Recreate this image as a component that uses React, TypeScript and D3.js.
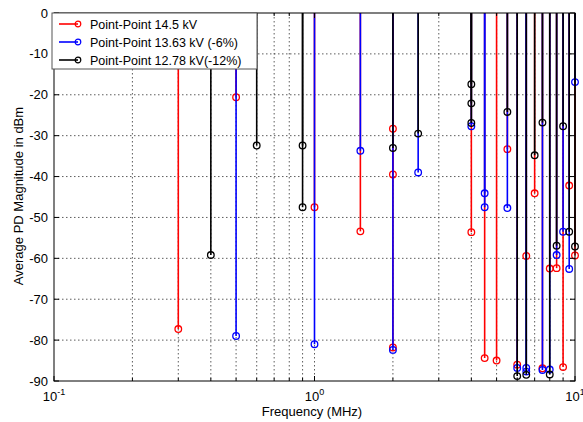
import { useEffect } from "react";
import * as d3 from "d3";

// stem data: [frequency MHz, magnitude dBm]
const redPoints: [number, number][] = [
  [0.3, -77.3], [0.5, -20.6], [1, -47.5], [1.5, -53.4], [2, -28.3], [2, -39.5],
  [2, -81.8], [4, -53.6], [4.5, -84.4], [5, -85], [5.5, -33.3], [6, -86],
  [6.5, -59.4], [7, -44.1], [7.5, -86.9], [8, -62.5], [8.5, -62.4], [9, -86.6],
  [9.5, -42.2], [10, -59.3],
];
const bluePoints: [number, number][] = [
  [0.5, -79], [1, -81], [1.5, -33.7], [2, -82.4], [2.5, -39], [4, -27.7],
  [4.5, -44.1], [4.5, -47.5], [5.5, -47.7], [6, -86.8], [6.5, -86.8], [6.5, -87.7],
  [7.5, -87.3], [8, -87.2], [8.5, -59.2], [9, -53.5], [9.5, -62.6], [10, -16.9],
];
const blackPoints: [number, number][] = [
  [0.4, -59.2], [0.6, -32.4], [0.9, -32.4], [0.9, -47.5], [2, -33], [2.5, -29.5],
  [4, -17.4], [4, -22.1], [4, -26.9], [5.5, -24.2], [6, -88.8], [6.5, -88.5],
  [7, -34.8], [7.5, -26.8], [8, -88.4], [8.5, -56.9], [9, -27.7], [9.5, -53.5],
  [10, -57.1],
];

const seriesNames = [
  "Point-Point 14.5 kV",
  "Point-Point 13.63 kV (-6%)",
  "Point-Point 12.78 kV(-12%)",
];
const seriesColors = ["#ff0000", "#0000ff", "#000000"];
const yTicks = [0, -10, -20, -30, -40, -50, -60, -70, -80, -90];
const xMajor = [0.1, 1, 10];
const xMinor = [0.2, 0.3, 0.4, 0.5, 0.6, 0.7, 0.8, 0.9, 2, 3, 4, 5, 6, 7, 8, 9];

const W = 583;
const H = 422;
const margin = { top: 13, right: 8, bottom: 40, left: 54 };
const font = "Liberation Sans, Arial, sans-serif";

export default function App() {
  useEffect(() => {
    document.body.style.margin = "0";
  }, []);

  const x = d3.scaleLog().domain([0.1, 10]).range([margin.left, W - margin.right]);
  const y = d3.scaleLinear().domain([-90, 0]).range([H - margin.bottom - 1, margin.top]);
  const [x0, x1] = x.range();
  const [yb, yt] = y.range();
  const series = [redPoints, bluePoints, blackPoints];

  return (
    <svg width={W} height={H} style={{ display: "block", background: "#fff" }} fontFamily={font}>
      {/* grid */}
      {[...xMinor, 1].map((v) => (
        <line key={"gx" + v} x1={x(v)} x2={x(v)} y1={yt} y2={yb}
          stroke="#333" strokeWidth={0.8} strokeDasharray="1.5,2.5" />
      ))}
      {yTicks.slice(1, -1).map((v) => (
        <line key={"gy" + v} x1={x0} x2={x1} y1={y(v)} y2={y(v)}
          stroke="#333" strokeWidth={0.8} strokeDasharray="1.5,2.5" />
      ))}

      {/* stems */}
      {series.map((pts, si) => (
        <g key={"s" + si}>
          {pts.map(([f, v], i) => (
            <line key={i} x1={x(f)} x2={x(f)} y1={y(0)} y2={y(v)}
              stroke={seriesColors[si]} strokeWidth={1.6} />
          ))}
          {pts.map(([f, v], i) => (
            <circle key={"m" + i} cx={x(f)} cy={y(v)} r={3.3} fill="none"
              stroke={seriesColors[si]} strokeWidth={1.3} />
          ))}
        </g>
      ))}

      {/* axes box */}
      <rect x={x0} y={yt} width={x1 - x0} height={yb - yt} fill="none" stroke="#000" strokeWidth={1} />
      {xMinor.map((v) => (
        <g key={"tx" + v}>
          <line x1={x(v)} x2={x(v)} y1={yb} y2={yb - 3} stroke="#000" />
          <line x1={x(v)} x2={x(v)} y1={yt} y2={yt + 3} stroke="#000" />
        </g>
      ))}
      {xMajor.map((v) => (
        <g key={"tX" + v}>
          <line x1={x(v)} x2={x(v)} y1={yb} y2={yb - 5} stroke="#000" />
          <line x1={x(v)} x2={x(v)} y1={yt} y2={yt + 5} stroke="#000" />
          <text x={x(v)} y={401} fontSize={13} textAnchor="middle">
            10
            <tspan dy={-6} fontSize={9}>{Math.round(Math.log10(v))}</tspan>
          </text>
        </g>
      ))}
      {yTicks.map((v) => (
        <g key={"ty" + v}>
          <line x1={x0} x2={x0 + 5} y1={y(v)} y2={y(v)} stroke="#000" />
          <line x1={x1} x2={x1 - 5} y1={y(v)} y2={y(v)} stroke="#000" />
          <text x={x0 - 6} y={y(v) + 4.5} fontSize={13} textAnchor="end">{v}</text>
        </g>
      ))}

      {/* axis labels */}
      <text x={312} y={416} fontSize={13} textAnchor="middle">Frequency (MHz)</text>
      <text transform={`translate(23,196) rotate(-90)`} fontSize={13} textAnchor="middle">
        Average PD Magnitude in dBm
      </text>

      {/* legend */}
      <g transform={`translate(${x0 - 2},${yt})`}>
        <rect x={0} y={0} width={205} height={56} fill="#fff" stroke="#555" strokeWidth={1} />
        {seriesNames.map((name, i) => (
          <g key={name} transform={`translate(0,${11 + i * 18})`}>
            <line x1={7} x2={26} y1={0} y2={0} stroke={seriesColors[i]} strokeWidth={1.6} />
            <circle cx={26} cy={0} r={2.8} fill="none" stroke={seriesColors[i]} strokeWidth={1.2} />
            <text x={38} y={4.5} fontSize={12.5}>{name}</text>
          </g>
        ))}
      </g>
    </svg>
  );
}
